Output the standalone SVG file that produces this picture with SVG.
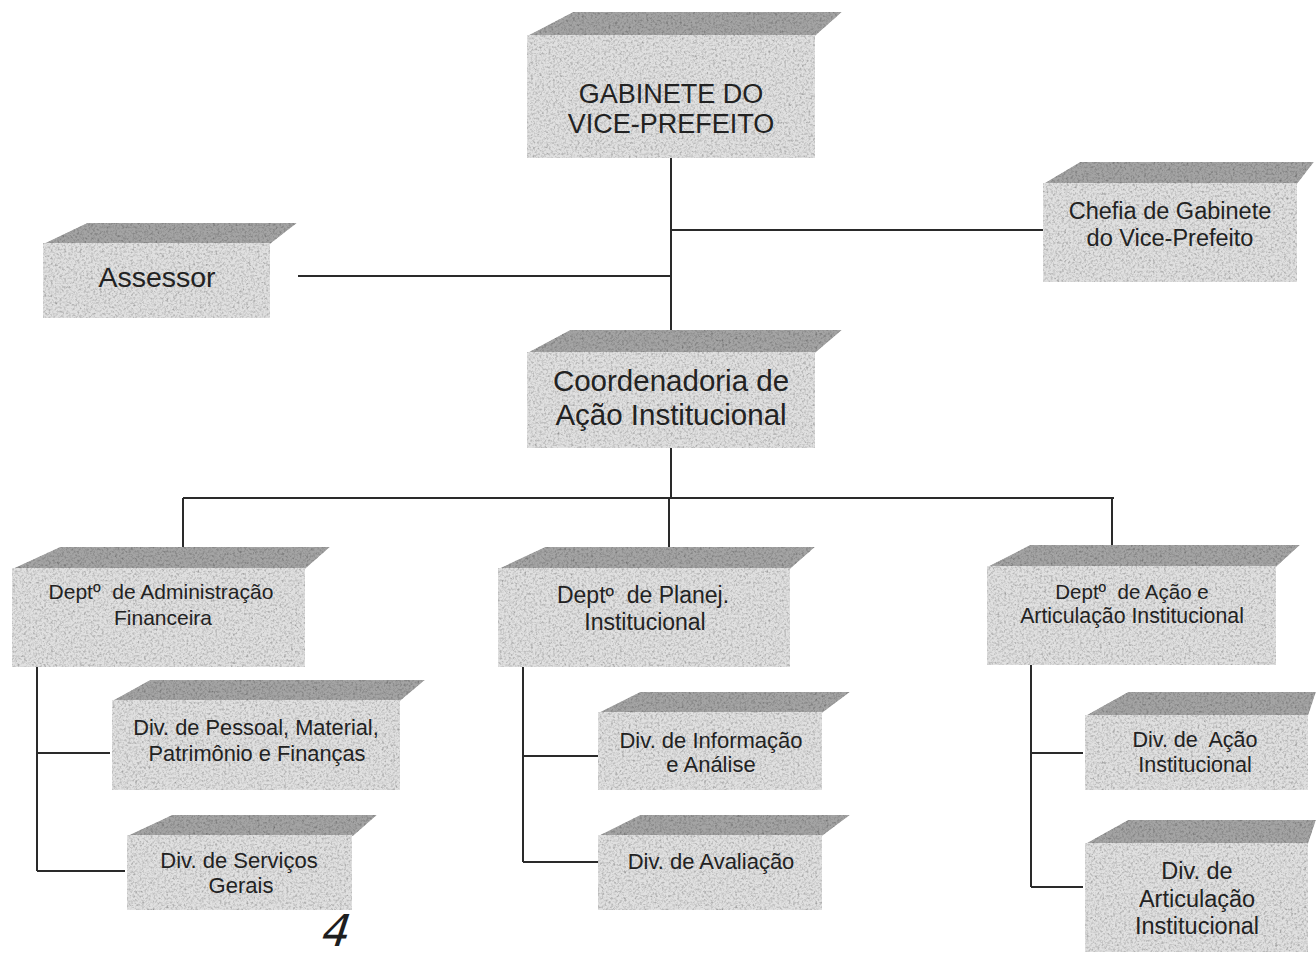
<svg xmlns="http://www.w3.org/2000/svg" width="1316" height="956" viewBox="0 0 1316 956">
  <defs>
    <!-- mottled print texture for the block faces -->
    <filter id="grain" x="0" y="0" width="100%" height="100%" color-interpolation-filters="sRGB">
      <feTurbulence type="fractalNoise" baseFrequency="0.45" numOctaves="3" seed="7" result="noise"/>
      <feColorMatrix in="noise" type="matrix" values="0.32 0.32 0.32 0 0.48  0.32 0.32 0.32 0 0.48  0.32 0.32 0.32 0 0.48  0 0 0 0 1" result="g"/>
      <feBlend in="SourceGraphic" in2="g" mode="multiply" result="m"/>
      <feComposite in="m" in2="SourceAlpha" operator="in"/>
    </filter>
    <style>
      .front { fill: #e0e0e0; filter: url(#grain); }
      .top { fill: #a4a4a4; filter: url(#grain); }
      .lbl { font-family: "Liberation Sans", Arial, sans-serif; fill: #222222; text-anchor: middle; }
      .conn { stroke: #2a2a2a; stroke-width: 2; fill: none; }
    </style>
  </defs>
  <rect width="1316" height="956" fill="#ffffff"/>

  <!-- connectors -->
  <g id="connectors" class="conn">
    <path d="M671,158 V345"/>
    <path d="M671,230 H1043"/>
    <path d="M298,276 H671"/>
    <path d="M671,448 V498"/>
    <path d="M183,498 H1114"/>
    <path d="M183,498 V556"/>
    <path d="M669,498 V556"/>
    <path d="M1112,498 V554"/>
    <path d="M37,667 V871 M37,753 H110 M37,871 H125"/>
    <path d="M523,667 V862 M523,756 H598 M523,862 H598"/>
    <path d="M1031,665 V887 M1031,753 H1083 M1031,887 H1083"/>
  </g>

  <g id="gabinete">
    <polygon class="top" points="527,36 573,12 842,12 815,36"/>
    <rect class="front" x="527" y="35" width="288" height="123"/>
    <text class="lbl" font-size="27" x="671" y="103">GABINETE DO</text>
    <text class="lbl" font-size="27" x="671" y="133">VICE-PREFEITO</text>
  </g>

  <g id="chefia">
    <polygon class="top" points="1043,184 1080,162 1314,162 1297,184"/>
    <rect class="front" x="1043" y="183" width="254" height="99"/>
    <text class="lbl" font-size="23.5" x="1170" y="219">Chefia de Gabinete</text>
    <text class="lbl" font-size="23.5" x="1170" y="246">do Vice-Prefeito</text>
  </g>

  <g id="assessor">
    <polygon class="top" points="43,244 87,223 297,223 270,244"/>
    <rect class="front" x="43" y="243" width="227" height="75"/>
    <text class="lbl" font-size="28.5" x="157" y="287">Assessor</text>
  </g>

  <g id="coordenadoria">
    <polygon class="top" points="527,353 570,330 842,330 815,353"/>
    <rect class="front" x="527" y="352" width="288" height="96"/>
    <text class="lbl" font-size="29.5" x="671" y="391">Coordenadoria de</text>
    <text class="lbl" font-size="29.5" x="671" y="425">Ação Institucional</text>
  </g>

  <g id="dept-adm">
    <polygon class="top" points="12,569 60,547 330,547 305,569"/>
    <rect class="front" x="12" y="568" width="293" height="99"/>
    <text class="lbl" font-size="21" x="161" y="599" xml:space="preserve">Deptº  de Administração</text>
    <text class="lbl" font-size="21" x="163" y="625">Financeira</text>
  </g>

  <g id="dept-planej">
    <polygon class="top" points="498,569 545,547 815,547 790,569"/>
    <rect class="front" x="498" y="568" width="292" height="99"/>
    <text class="lbl" font-size="23" x="643" y="603" xml:space="preserve">Deptº  de Planej.</text>
    <text class="lbl" font-size="23" x="645" y="630">Institucional</text>
  </g>

  <g id="dept-acao">
    <polygon class="top" points="987,567 1030,545 1300,545 1276,567"/>
    <rect class="front" x="987" y="566" width="289" height="99"/>
    <text class="lbl" font-size="20.5" x="1132" y="599" xml:space="preserve">Deptº  de Ação e</text>
    <text class="lbl" font-size="21.3" x="1132" y="623">Articulação Institucional</text>
  </g>

  <g id="div-pessoal">
    <polygon class="top" points="112,701 150,680 425,680 400,701"/>
    <rect class="front" x="112" y="700" width="288" height="90"/>
    <text class="lbl" font-size="21.8" x="256" y="735">Div. de Pessoal, Material,</text>
    <text class="lbl" font-size="21.8" x="257" y="761">Patrimônio e Finanças</text>
  </g>

  <g id="div-servicos">
    <polygon class="top" points="127,836 172,815 377,815 353,836"/>
    <rect class="front" x="127" y="835" width="225" height="75"/>
    <text class="lbl" font-size="22" x="239" y="868">Div. de Serviços</text>
    <text class="lbl" font-size="22" x="241" y="893">Gerais</text>
  </g>

  <g id="div-informacao">
    <polygon class="top" points="598,713 640,692 850,692 822,713"/>
    <rect class="front" x="598" y="712" width="224" height="78"/>
    <text class="lbl" font-size="22" x="711" y="748">Div. de Informação</text>
    <text class="lbl" font-size="22" x="711" y="772">e Análise</text>
  </g>

  <g id="div-avaliacao">
    <polygon class="top" points="598,836 640,815 850,815 822,836"/>
    <rect class="front" x="598" y="835" width="224" height="75"/>
    <text class="lbl" font-size="22" x="711" y="869">Div. de Avaliação</text>
  </g>

  <g id="div-acao">
    <polygon class="top" points="1085,716 1128,692 1316,692 1308,716"/>
    <rect class="front" x="1085" y="715" width="223" height="75"/>
    <text class="lbl" font-size="21.5" x="1195" y="747" xml:space="preserve">Div. de  Ação</text>
    <text class="lbl" font-size="21.5" x="1195" y="772">Institucional</text>
  </g>

  <g id="div-articulacao">
    <polygon class="top" points="1085,844 1128,820 1316,820 1308,844"/>
    <rect class="front" x="1085" y="843" width="223" height="109"/>
    <text class="lbl" font-size="23.5" x="1197" y="879">Div. de</text>
    <text class="lbl" font-size="23.5" x="1197" y="907">Articulação</text>
    <text class="lbl" font-size="23.5" x="1197" y="934">Institucional</text>
  </g>

  <!-- handwritten page mark -->
  <g transform="translate(318,946) skewX(-18)">
    <text x="0" y="0" font-family="DejaVu Sans, sans-serif" font-weight="normal" font-size="44" fill="#1e1e1e">4</text>
  </g>
</svg>
